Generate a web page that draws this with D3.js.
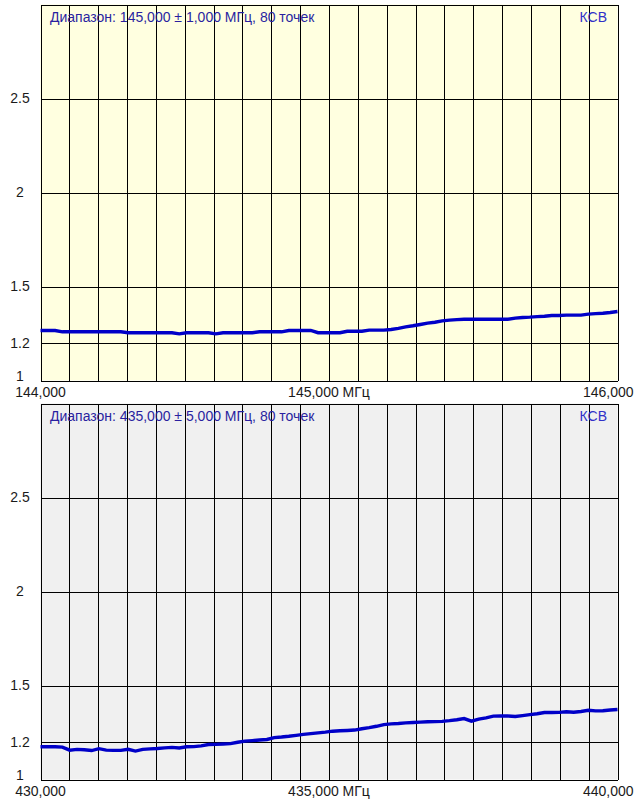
<!DOCTYPE html>
<html>
<head>
<meta charset="utf-8">
<script src="https://cdn.jsdelivr.net/npm/d3@7"></script>
<style>
  html, body { margin: 0; padding: 0; background: #ffffff; }
  svg { display: block; font-family: Arial, "Liberation Sans", sans-serif; }
</style>
</head>
<body>
<svg id="chart" width="642" height="805"></svg>
<script>
// ---- Data ----
const panelTitles = [
  "Диапазон: 145,000 ± 1,000 МГц, 80 точек",
  "Диапазон: 435,000 ± 5,000 МГц, 80 точек"
];
const seriesLabel = "КСВ";
const centerFreqs = [145.0, 435.0];
const halfSpans = [1.0, 5.0];
const pointCount = 80;
const xTickLabels = [
  ["144,000", "145,000 МГц", "146,000"],
  ["430,000", "435,000 МГц", "440,000"]
];
const yTickValues = [1, 1.2, 1.5, 2, 2.5];
const yTickLabels = ["1", "1.2", "1.5", "2", "2.5"];
const yDomain = [1, 3];
const verticalDivisions = 20;

const swr145 = [
  1.266, 1.266, 1.266, 1.259, 1.259, 1.259, 1.259, 1.259, 1.259, 1.259,
  1.259, 1.259, 1.254, 1.254, 1.254, 1.254, 1.254, 1.254, 1.254, 1.248,
  1.254, 1.254, 1.254, 1.254, 1.248, 1.254, 1.254, 1.254, 1.254, 1.254,
  1.259, 1.259, 1.259, 1.259, 1.266, 1.266, 1.266, 1.266, 1.254, 1.254,
  1.254, 1.254, 1.262, 1.262, 1.262, 1.268, 1.268, 1.268, 1.271, 1.277,
  1.285, 1.291, 1.298, 1.305, 1.310, 1.317, 1.321, 1.324, 1.326, 1.326,
  1.326, 1.326, 1.326, 1.326, 1.326, 1.332, 1.335, 1.337, 1.340, 1.342,
  1.346, 1.346, 1.348, 1.348, 1.348, 1.353, 1.356, 1.358, 1.362, 1.367
];
const swr435 = [
  1.174, 1.174, 1.174, 1.172, 1.156, 1.160, 1.158, 1.154, 1.164, 1.156,
  1.155, 1.155, 1.161, 1.151, 1.160, 1.163, 1.165, 1.168, 1.171, 1.168,
  1.174, 1.175, 1.179, 1.186, 1.187, 1.189, 1.191, 1.198, 1.204, 1.207,
  1.210, 1.213, 1.223, 1.226, 1.230, 1.235, 1.240, 1.244, 1.248, 1.252,
  1.257, 1.259, 1.261, 1.263, 1.270, 1.276, 1.283, 1.292, 1.296, 1.298,
  1.301, 1.303, 1.305, 1.307, 1.308, 1.309, 1.313, 1.318, 1.324, 1.310,
  1.321, 1.328, 1.337, 1.338, 1.338, 1.335, 1.340, 1.345, 1.350, 1.356,
  1.356, 1.357, 1.360, 1.358, 1.362, 1.368, 1.365, 1.366, 1.370, 1.372
];
const seriesList = [swr145, swr435];

// ---- Layout / style ----
const panels = [
  { top: 4, bottom: 380, bg: "#FFFFE0" },
  { top: 403, bottom: 779, bg: "#F0F0F0" }
];
const left = 40.5, right = 617.5;
const fontSize = 14;

const svg = d3.select("#chart");

panels.forEach((p, k) => {
  const lo = centerFreqs[k] - halfSpans[k];
  const hi = centerFreqs[k] + halfSpans[k];
  const x = d3.scaleLinear().domain([lo, hi]).range([left, right]);
  const y = d3.scaleLinear().domain(yDomain).range([p.bottom + 0.5, p.top + 0.5]);

  const g = svg.append("g");

  // background
  g.append("rect")
    .attr("x", left).attr("y", p.top + 0.5)
    .attr("width", right - left).attr("height", p.bottom - p.top)
    .attr("fill", p.bg);

  // vertical grid
  const vTicks = d3.range(verticalDivisions + 1).map(i => lo + i * (hi - lo) / verticalDivisions);
  g.selectAll(".vg").data(vTicks).enter().append("line")
    .attr("x1", d => Math.round(x(d)) + 0.5).attr("x2", d => Math.round(x(d)) + 0.5)
    .attr("y1", y(yDomain[1])).attr("y2", y(yDomain[0]))
    .attr("stroke", "#000").attr("stroke-width", 1).attr("shape-rendering", "crispEdges");

  // horizontal grid (ticks + top border)
  const hLines = yTickValues.concat([yDomain[1]]);
  g.selectAll(".hg").data(hLines).enter().append("line")
    .attr("x1", left).attr("x2", right)
    .attr("y1", d => Math.round(y(d)) + 0.5).attr("y2", d => Math.round(y(d)) + 0.5)
    .attr("stroke", "#000").attr("stroke-width", 1).attr("shape-rendering", "crispEdges");

  // y labels
  g.selectAll(".yl").data(yTickValues).enter().append("text")
    .attr("x", 20)
    .attr("y", d => Math.min(y(d), p.bottom - 4))
    .attr("dy", "0.35em")
    .attr("text-anchor", "middle")
    .attr("font-size", fontSize)
    .attr("fill", "#1a1a1a")
    .text((d, i) => yTickLabels[i]);

  // x labels
  const xl = xTickLabels[k];
  const xPos = [lo, centerFreqs[k], hi];
  const anchors = ["middle", "middle", "end"];
  xPos.forEach((v, i) => {
    g.append("text")
      .attr("x", i === 2 ? x(v) + 16 : x(v))
      .attr("y", p.bottom + 12)
      .attr("dy", "0.35em")
      .attr("text-anchor", anchors[i])
      .attr("font-size", fontSize)
      .attr("fill", "#1a1a1a")
      .text(xl[i]);
  });

  // data line
  const data = seriesList[k].map((v, i) => [lo + i * (hi - lo) / (pointCount - 1), v]);
  g.append("path")
    .datum(data)
    .attr("d", d3.line().x(d => x(d[0])).y(d => y(d[1])))
    .attr("fill", "none")
    .attr("stroke", "#0000C8")
    .attr("stroke-width", 3.4)
    .attr("stroke-linejoin", "miter");

  // titles
  g.append("text")
    .attr("x", 50).attr("y", p.top + 13)
    .attr("dy", "0.35em")
    .attr("font-size", fontSize)
    .attr("fill", "#2a1fa0")
    .text(panelTitles[k]);
  g.append("text")
    .attr("x", 607).attr("y", p.top + 13)
    .attr("dy", "0.35em")
    .attr("text-anchor", "end")
    .attr("font-size", fontSize)
    .attr("fill", "#3030c8")
    .text(seriesLabel);
});
</script>
</body>
</html>
